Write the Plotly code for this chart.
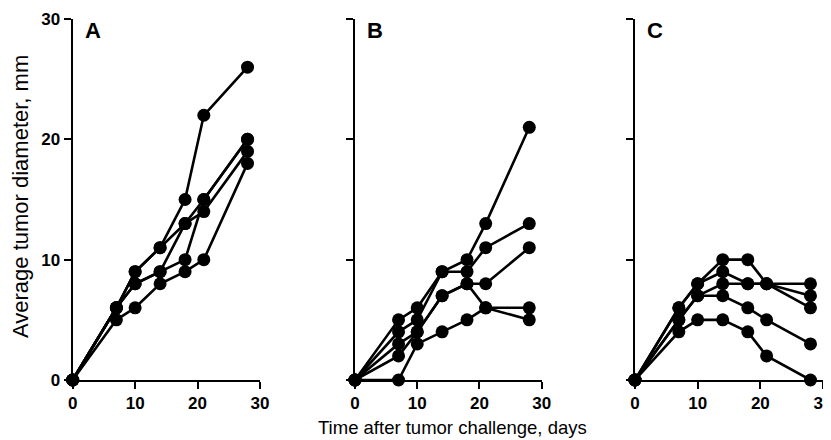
import plotly.graph_objects as go

days = [0, 7, 10, 14, 18, 21, 28]

panel_a = [
    [0, 6, 9, 11, 15, 22, 26],
    [0, 6, 9, 11, 13, 14, 19],
    [0, 6, 8, 9, 10, 15, 20],
    [0, 5, 6, 8, 9, 10, 18],
    [0, 6, 8, 9, 13, 15, 20],
]
panel_b = [
    [0, 5, 6, 9, 10, 13, 21],
    [0, 4, 5, 9, 9, 11, 13],
    [0, 3, 4, 7, 8, 8, 11],
    [0, 2, 4, 7, 8, 6, 5],
    [0, 0, 3, 4, 5, 6, 6],
]
panel_c = [
    [0, 6, 8, 10, 10, 8, 6],
    [0, 6, 8, 9, 8, 8, 7],
    [0, 5, 7, 8, 8, 8, 8],
    [0, 5, 7, 7, 6, 5, 3],
    [0, 4, 5, 5, 4, 2, 0],
]
panel_letters = ["A", "B", "C"]
x_ticks = [0, 10, 20, 30]
y_ticks = [0, 10, 20, 30]

FONT = "Liberation Sans, Arial"
W, H = 823, 432

fig = go.Figure()
panels = [panel_a, panel_b, panel_c]
x_domains = [[0.0786, 0.3062], [0.4216, 0.6485], [0.7618, 0.9903]]
y_domain = [0.1389, 0.9745]

for i, series in enumerate(panels):
    xa = "x" if i == 0 else f"x{i+1}"
    ya = "y" if i == 0 else f"y{i+1}"
    for s in series:
        fig.add_trace(go.Scatter(
            x=days, y=s, mode="lines+markers",
            line=dict(color="black", width=2.6),
            marker=dict(color="black", size=13),
            cliponaxis=False, showlegend=False,
            xaxis=xa, yaxis=ya,
        ))

axis_common = dict(
    showgrid=False, zeroline=False, showline=True, linecolor="black",
    linewidth=2, ticks="outside", ticklen=7, tickwidth=2, tickcolor="black",
    tickfont=dict(family=FONT, size=17, color="black", weight="bold"),
    ticklabeloverflow="allow",
)

layout = dict(
    width=W, height=H, paper_bgcolor="white", plot_bgcolor="white",
    margin=dict(l=0, r=0, t=0, b=0),
)
for i in range(3):
    xk = "xaxis" if i == 0 else f"xaxis{i+1}"
    yk = "yaxis" if i == 0 else f"yaxis{i+1}"
    ya = "y" if i == 0 else f"y{i+1}"
    xa = "x" if i == 0 else f"x{i+1}"
    layout[xk] = dict(axis_common, domain=x_domains[i], range=[0, 30],
                      tickvals=x_ticks, anchor=ya, automargin=False)
    layout[yk] = dict(axis_common, domain=y_domain, range=[0, 30],
                      tickvals=y_ticks, anchor=xa, automargin=False,
                      showticklabels=(i == 0))

fig.update_layout(**layout)

annotations = []
for i, letter in enumerate(panel_letters):
    annotations.append(dict(
        text=f"<b>{letter}</b>", x=x_domains[i][0] + 0.012, y=0.949,
        xref="paper", yref="paper", xanchor="left", yanchor="middle",
        showarrow=False, font=dict(family=FONT, size=22, color="black"),
    ))
annotations.append(dict(
    text="Time after tumor challenge, days", x=0.5407, y=0.028,
    xref="paper", yref="paper", xanchor="center", yanchor="middle",
    showarrow=False, font=dict(family=FONT, size=18.5, color="black"),
))
annotations.append(dict(
    text="Average tumor diameter, mm", x=0.0146, y=0.5625,
    xref="paper", yref="paper", xanchor="center", yanchor="middle", textangle=-90,
    showarrow=False, font=dict(family=FONT, size=22, color="black"),
))
fig.update_layout(annotations=annotations)

fig.write_html("out.html")
